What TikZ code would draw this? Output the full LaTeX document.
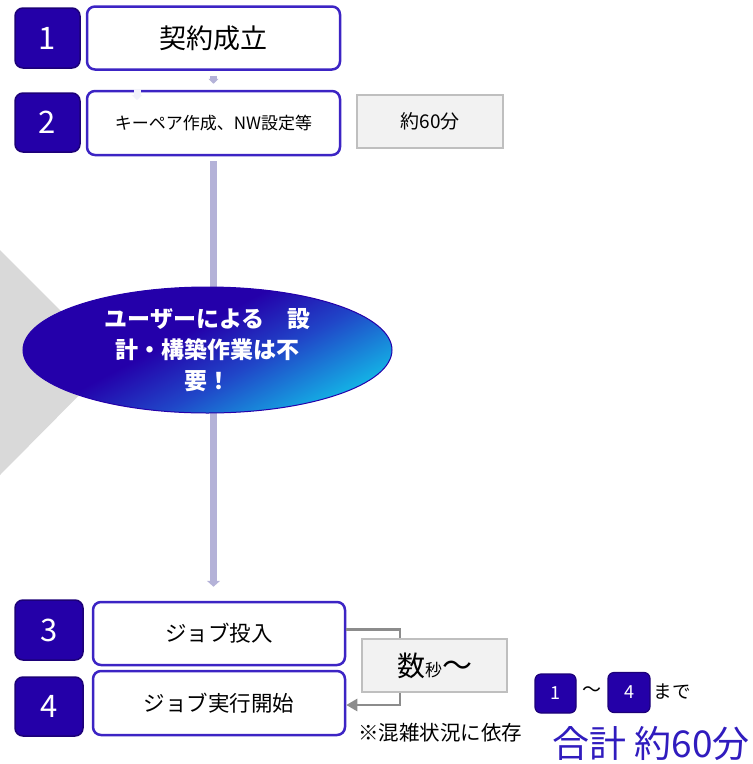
\documentclass[tikz,border=0pt]{standalone}
\usepackage{fontspec}
\setmainfont{Noto Sans CJK JP}
\usetikzlibrary{arrows.meta,calc,shapes.geometric}
\definecolor{numblue}{RGB}{36,0,168}
\definecolor{numedge}{RGB}{28,0,120}
\definecolor{boxedge}{RGB}{60,36,196}
\definecolor{barcol}{RGB}{180,178,216}
\definecolor{faintcol}{RGB}{242,242,250}
\definecolor{grayfill}{RGB}{242,242,242}
\definecolor{grayedge}{RGB}{191,191,191}
\definecolor{lineg}{RGB}{140,140,140}
\definecolor{tricol}{RGB}{217,217,217}
\definecolor{ellA}{RGB}{36,0,170}
\definecolor{ellM}{RGB}{32,70,200}
\definecolor{ellB}{RGB}{20,175,228}
\definecolor{totalblue}{RGB}{48,28,190}
\pgfdeclarehorizontalshading{ellshade}{100bp}{color(0bp)=(ellA); color(44bp)=(ellA); color(58bp)=(ellM); color(74bp)=(ellB); color(100bp)=(ellB)}
\begin{document}
\begin{tikzpicture}[x=1pt,y=-1pt,
  numbox/.style={draw=numedge, fill=numblue, line width=1.5pt, rounded corners=8pt, text=white, inner sep=0pt, font=\fontsize{31}{31}\selectfont},
  smallnum/.style={draw=numedge, fill=numblue, line width=1.2pt, rounded corners=6pt, text=white, inner sep=0pt, font=\fontsize{18}{18}\selectfont},
  stepbox/.style={draw=boxedge, fill=white, line width=2.5pt, rounded corners=8pt, inner sep=0pt, text=black},
  graybox/.style={draw=grayedge, fill=grayfill, line width=2.5pt, inner sep=0pt, text=black},
  flowbar/.style={draw=barcol, line width=7.5pt, -{Triangle[width=13pt,length=6pt]}},
  smallbar/.style={draw=barcol, line width=7pt, -{Triangle[width=10pt,length=5pt]}},
  conn/.style={draw=lineg, line width=2.5pt, -{Triangle[width=12pt,length=11pt]}},
  plain/.style={inner sep=0pt, text=black}
]
\useasboundingbox (0,0) rectangle (753,764);

% grey triangle in background
\fill[tricol] (0,250) -- (112,362) -- (0,475) -- cycle;

% nodes
\node[numbox, minimum width=65pt, minimum height=60pt] (n1) at (47.5,38) {1};
\node[stepbox, minimum width=253pt, minimum height=63pt, font=\fontsize{27}{27}\selectfont] (b1) at (213.5,38) {契約成立};
\node[numbox, minimum width=65pt, minimum height=59pt] (n2) at (47.5,122.5) {2};
\node[stepbox, minimum width=253pt, minimum height=64pt, font=\fontsize{17}{17}\selectfont] (b2) at (213.5,123) {キーペア作成、NW設定等};
\node[graybox, minimum width=146pt, minimum height=53pt, font=\fontsize{19}{19}\selectfont] (g1) at (430,121.5) {約60分};

\node[numbox, minimum width=68pt, minimum height=60pt] (n3) at (49,630) {3};
\node[stepbox, minimum width=252pt, minimum height=63pt, font=\fontsize{21.5}{21.5}\selectfont] (b3) at (219,633.5) {ジョブ投入};
\node[numbox, minimum width=68pt, minimum height=59pt] (n4) at (49,706.5) {4};
\node[stepbox, minimum width=252pt, minimum height=64pt, font=\fontsize{21.5}{21.5}\selectfont] (b4) at (219,703) {ジョブ実行開始};

% connectors
\coordinate (faintA) at (137,89);
\coordinate (faintB) at (137,100);
\draw[draw=faintcol, line width=7pt, -{Triangle[width=10pt,length=5pt]}] (faintA) -- (faintB);
\draw[smallbar, shorten <=5pt, shorten >=6pt] (b1) -- (b2);
\coordinate (barend) at (b2.south |- b3.north);
\draw[flowbar, shorten <=5pt, shorten >=14pt] (b2.south) -- (barend);

\coordinate (turn) at (400,705);
\draw[conn] ([yshift=4pt]b3.east) -| (turn) -- (b4.east |- turn);
\node[graybox, minimum width=145pt, minimum height=53pt] (g2) at (434.5,665.5) {\fontsize{28}{28}\selectfont 数\fontsize{17}{17}\selectfont 秒\fontsize{30}{30}\selectfont 〜};
\node[plain, font=\fontsize{20.5}{20.5}\selectfont] (note) at (440,733) {※混雑状況に依存};

% ellipse
\node[ellipse, draw=ellA, line width=1pt, shading=ellshade, shading angle=-62, minimum width=369pt, minimum height=126pt, inner sep=0pt] (ell) at (207.5,350) {};
\node[inner sep=0pt, text=white, align=center, font=\bfseries\fontsize{23}{31}\selectfont] (elltext) at (ell.center) {ユーザーによる　設\\計・構築作業は不\\要！};

% total
\node[smallnum, minimum width=41pt, minimum height=39pt] (s1) at (555.5,693.5) {1};
\node[plain, font=\fontsize{19}{19}\selectfont] (tilde) at (592,692) {〜};
\node[smallnum, minimum width=42pt, minimum height=40pt] (s4) at (629,692.5) {4};
\node[plain, font=\fontsize{18.5}{18.5}\selectfont] (made) at (672,692) {まで};
\node[plain, text=totalblue, font=\fontsize{37}{37}\selectfont] (total) at (651,744) {合計 約60分};
\end{tikzpicture}
\end{document}
